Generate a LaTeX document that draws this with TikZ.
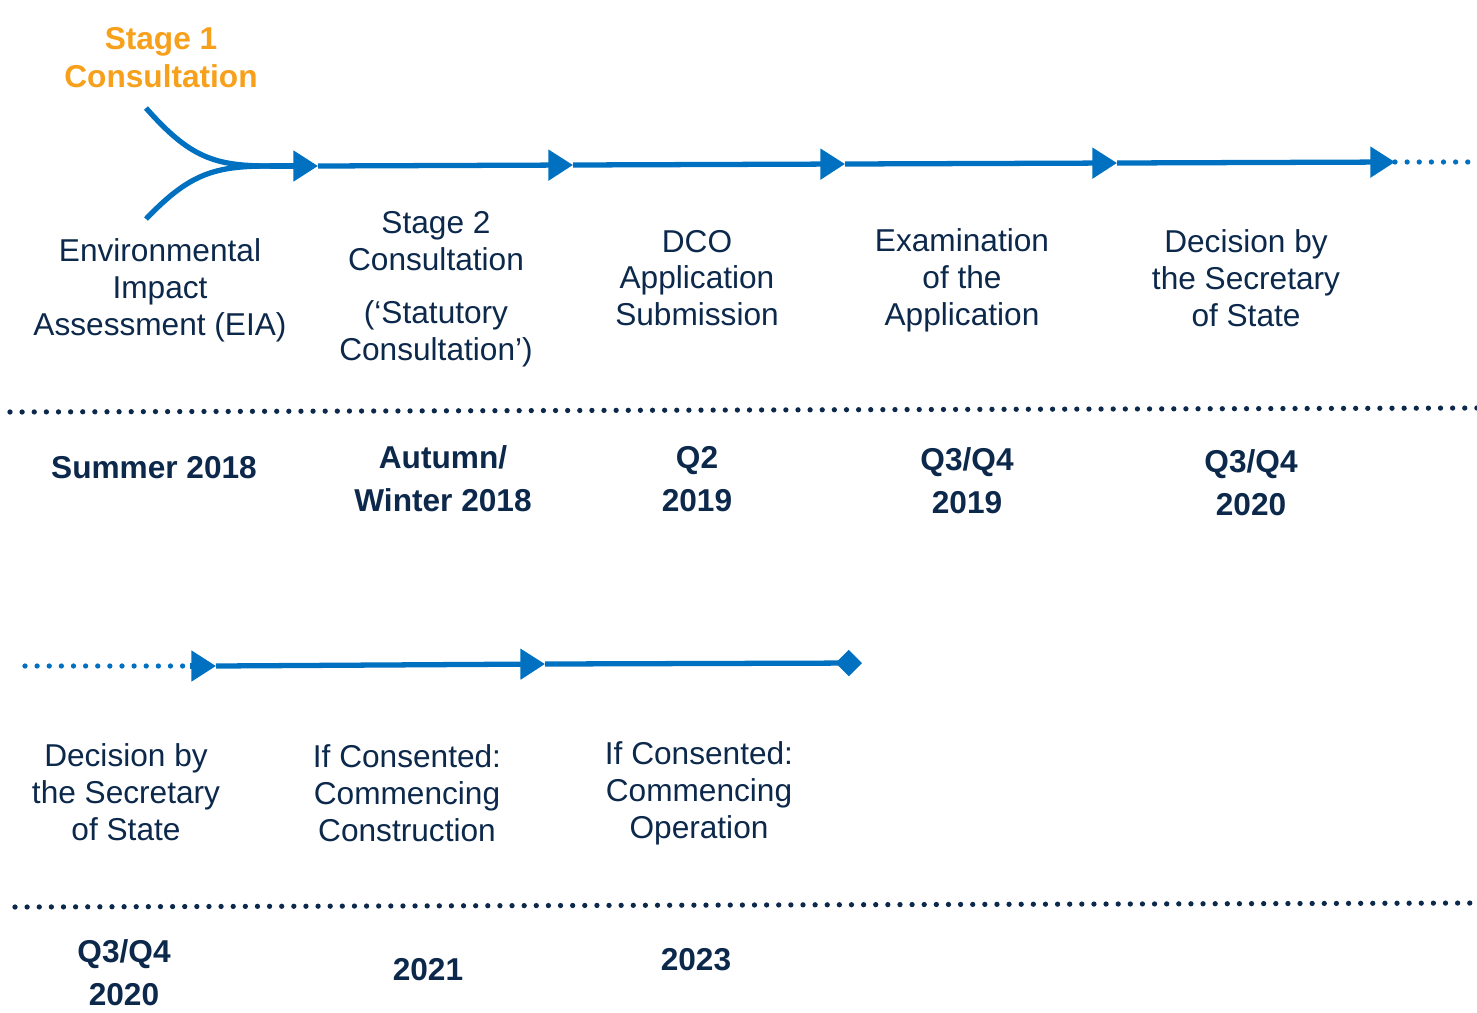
\documentclass[tikz,border=0pt]{standalone}
\usepackage{fontspec}
\setmainfont{Liberation Sans}
\usetikzlibrary{arrows.meta,positioning}
\definecolor{tlblue}{RGB}{0,112,192}
\definecolor{tlnavy}{RGB}{12,40,75}
\definecolor{tlorange}{RGB}{247,160,28}

\begin{document}
\begin{tikzpicture}[x=0.02cm,y=-0.02cm,
  stage/.style={align=center,text=tlnavy,inner sep=0pt,font=\fontsize{18}{21}\selectfont},
  when/.style={align=center,text=tlnavy,inner sep=0pt,font=\fontsize{18}{24.5}\selectfont\bfseries},
  tl/.style={draw=tlblue,line width=3pt},
  go/.style={tl,-{Triangle[length=14pt,width=17pt]}},
  more/.style={draw=tlblue,line width=3pt,line cap=round,dash pattern=on 0pt off 6.9pt},
  sep/.style={draw=tlnavy,line width=3pt,line cap=round,dash pattern=on 0pt off 6.9pt}]
\useasboundingbox (0,0) rectangle (1477,1012);
% top timeline
\coordinate (s1) at (146,108);
\coordinate (eia) at (146,219);
\coordinate (m0) at (270,166);
\coordinate (a1) at (318,166);
\coordinate (a2) at (573,165);
\coordinate (a3) at (845,164);
\coordinate (a4) at (1117,163);
\coordinate (a5) at (1395,162);
\coordinate (a6) at (1472,162);
\draw[tl] (s1) .. controls (190,158) and (215,166) .. (m0);
\draw[tl] (eia) .. controls (190,173) and (215,166) .. (m0);
\draw[go] (m0)--(a1);
\draw[go] (a1)--(a2);
\draw[go] (a2)--(a3);
\draw[go] (a3)--(a4);
\draw[go] (a4)--(a5);
\draw[more] (a5)--(a6);
\node[stage,text=tlorange,font=\fontsize{18}{21.6}\selectfont\bfseries] (stage1) at (161,58) {Stage 1\\Consultation};
\node[stage] (envimp) at (160,290) {Environmental\\Impact\\Assessment (EIA)};
\node[stage] (stage2) at (436,289) {Stage 2\\Consultation\\[9pt](‘Statutory\\Consultation’)};
\node[stage] (dco) at (697,278) {DCO\\Application\\Submission};
\node[stage] (exam) at (962,280) {Examination\\of the\\Application};
\node[stage] (decide) at (1246,278) {Decision by\\the Secretary\\of State};
\coordinate (t0) at (10,412);
\coordinate (t1) at (1477,408);
\draw[sep] (t0)--(t1);
\node[when] (summer) at (154,468) {Summer 2018};
\node[when] (autumn) at (443,479) {Autumn/\\Winter 2018};
\node[when] (qtwo) at (697,479) {Q2\\2019};
\node[when] (qnine) at (967,481) {Q3/Q4\\2019};
\node[when] (qtwenty) at (1251,483) {Q3/Q4\\2020};
% bottom timeline
\coordinate (b0) at (25,666);
\coordinate (b1) at (190,666);
\coordinate (b2) at (216,666);
\coordinate (b3) at (545,664);
\coordinate (b4) at (862,663);
\draw[more] (b0)--(b1);
\draw[go] (b1)--(b2);
\draw[go] (b2)--(b3);
\draw[tl,-{Diamond[length=15pt,width=15pt]}] (b3)--(b4);
\node[stage] (decide2) at (126,792) {Decision by\\the Secretary\\of State};
\node[stage] (build) at (407,793) {If Consented:\\Commencing\\Construction};
\node[stage] (operate) at (699,793) {If Consented:\\Commencing\\Operation};
\coordinate (u0) at (15,907);
\coordinate (u1) at (1477,903);
\draw[sep] (u0)--(u1);
\node[when] (qtwenty2) at (124,973) {Q3/Q4\\2020};
\node[when] (ytwo1) at (428,970) {2021};
\node[when] (ytwo3) at (696,960) {2023};
\end{tikzpicture}
\end{document}
